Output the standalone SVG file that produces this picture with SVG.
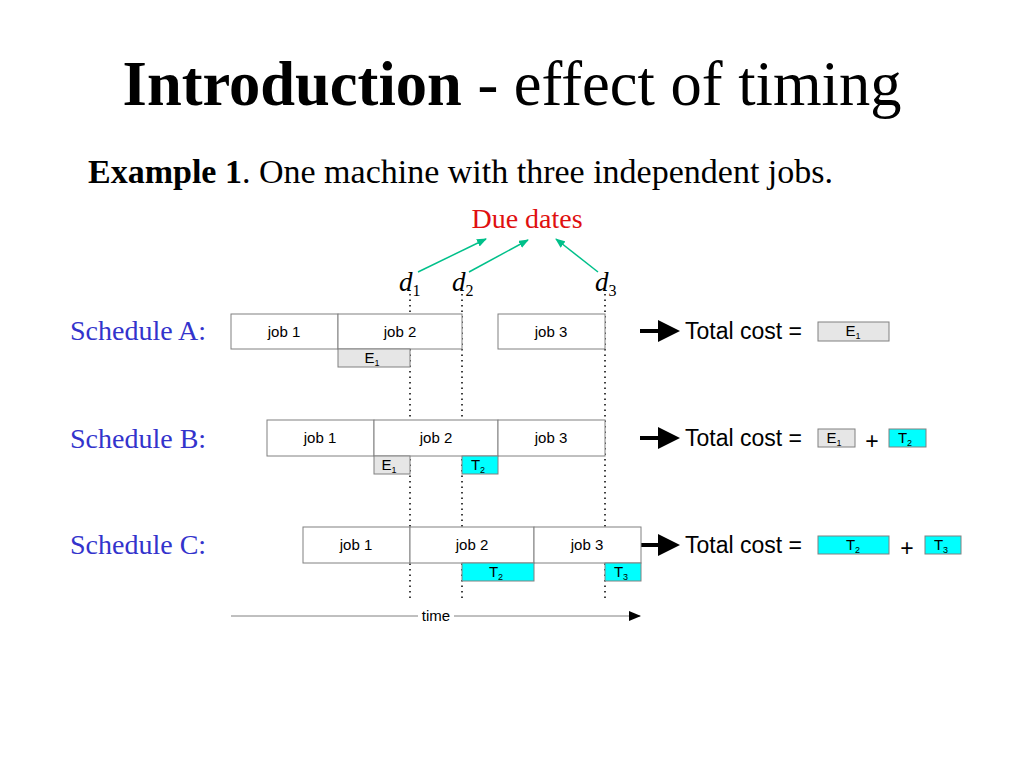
<svg xmlns="http://www.w3.org/2000/svg" width="1024" height="768" viewBox="0 0 1024 768">
<style>
.serif{font-family:"Liberation Serif","Times New Roman",serif}
.sans{font-family:"Liberation Sans",Arial,sans-serif}
.job{fill:#fff;stroke:#808080;stroke-width:1}
.e{fill:#e6e6e6;stroke:#808080;stroke-width:1}
.t{fill:#00ffff;stroke:#808080;stroke-width:1}
.jl{font-family:"Liberation Sans",Arial,sans-serif;font-size:15px;fill:#000;text-anchor:middle}
.sub{font-size:9px}
.sched{font-family:"Liberation Serif","Times New Roman",serif;font-size:28px;fill:#3333cc}
.tc{font-family:"Liberation Sans",Arial,sans-serif;font-size:23px;fill:#000}
.dot{stroke:#000;stroke-width:1.5;stroke-dasharray:1.5 4}
.green{stroke:#00c08a;stroke-width:1.5;fill:none}
</style>
<defs>
<marker id="gh" markerWidth="10" markerHeight="8" refX="9" refY="4" orient="auto" markerUnits="userSpaceOnUse">
<path d="M0,0 L10,4 L0,8 z" fill="#00c08a"/>
</marker>
<marker id="th" markerWidth="12" markerHeight="10" refX="11" refY="5" orient="auto" markerUnits="userSpaceOnUse">
<path d="M0,0 L12,5 L0,10 z" fill="#000"/>
</marker>
</defs>
<rect width="1024" height="768" fill="#fff"/>
<text x="512" y="105" class="serif" font-size="62.5" text-anchor="middle"><tspan font-weight="bold">Introduction</tspan> - effect of timing</text>
<text x="88" y="183" class="serif" font-size="34"><tspan font-weight="bold">Example 1</tspan>. One machine with three independent jobs.</text>
<text x="527" y="228" class="serif" font-size="28" fill="#e01010" text-anchor="middle">Due dates</text>

<g id="duedates">
<text x="399" y="291" class="serif" font-size="27" font-style="italic">d<tspan font-style="normal" font-size="16" dy="5">1</tspan></text>
<text x="452" y="291" class="serif" font-size="27" font-style="italic">d<tspan font-style="normal" font-size="16" dy="5">2</tspan></text>
<text x="595" y="291" class="serif" font-size="27" font-style="italic">d<tspan font-style="normal" font-size="16" dy="5">3</tspan></text>
</g>

<g id="connectors">
<line x1="418" y1="272" x2="486" y2="239" class="green" marker-end="url(#gh)"/>
<line x1="469" y1="272" x2="528" y2="240" class="green" marker-end="url(#gh)"/>
<line x1="598" y1="272" x2="556" y2="239" class="green" marker-end="url(#gh)"/>
<line x1="410" y1="294" x2="410" y2="600" class="dot"/>
<line x1="462" y1="294" x2="462" y2="600" class="dot"/>
<line x1="605" y1="294" x2="605" y2="600" class="dot"/>
<line x1="231" y1="616" x2="418" y2="616" stroke="#808080" stroke-width="1"/>
<line x1="454" y1="616" x2="640" y2="616" stroke="#808080" stroke-width="1" marker-end="url(#th)"/>
<g id="bigarrows" fill="#000">
<path d="M640,329 L658,329 L658,320 L680,331 L658,342 L658,333 L640,333 z"/>
<path d="M640,436 L658,436 L658,427 L680,438 L658,449 L658,440 L640,440 z"/>
<path d="M640,543 L658,543 L658,534 L680,545 L658,556 L658,547 L640,547 z"/>
</g>
</g>
<text x="436" y="621" class="jl">time</text>

<g id="scheduleA">
<text x="70" y="340" class="sched">Schedule A:</text>
<rect x="231" y="314" width="107" height="35" class="job"/>
<rect x="338" y="314" width="124" height="35" class="job"/>
<rect x="498" y="314" width="107" height="35" class="job"/>
<text x="284" y="337" class="jl">job 1</text>
<text x="400" y="337" class="jl">job 2</text>
<text x="551" y="337" class="jl">job 3</text>
<rect x="338" y="349" width="72" height="18" class="e"/>
<text x="372" y="363" class="jl">E<tspan class="sub" dy="3">1</tspan></text>
<text x="685" y="339" class="tc">Total cost =</text>
<rect x="818" y="322" width="71" height="19" class="e"/>
<text x="853" y="336" class="jl">E<tspan class="sub" dy="3">1</tspan></text>
</g>

<g id="scheduleB">
<text x="70" y="448" class="sched">Schedule B:</text>
<rect x="267" y="420" width="107" height="36" class="job"/>
<rect x="374" y="420" width="124" height="36" class="job"/>
<rect x="498" y="420" width="107" height="36" class="job"/>
<text x="320" y="443" class="jl">job 1</text>
<text x="436" y="443" class="jl">job 2</text>
<text x="551" y="443" class="jl">job 3</text>
<rect x="374" y="456" width="36" height="18" class="e"/>
<text x="389" y="470" class="jl">E<tspan class="sub" dy="3">1</tspan></text>
<rect x="462" y="456" width="36" height="18" class="t"/>
<text x="478" y="470" class="jl">T<tspan class="sub" dy="3">2</tspan></text>
<text x="685" y="446" class="tc">Total cost =</text>
<rect x="818" y="429" width="37" height="18" class="e"/>
<text x="834" y="443" class="jl">E<tspan class="sub" dy="3">1</tspan></text>
<text x="872" y="449" class="tc" text-anchor="middle">+</text>
<rect x="889" y="429" width="37" height="18" class="t"/>
<text x="905" y="443" class="jl">T<tspan class="sub" dy="3">2</tspan></text>
</g>

<g id="scheduleC">
<text x="70" y="554" class="sched">Schedule C:</text>
<rect x="303" y="527" width="107" height="36" class="job"/>
<rect x="410" y="527" width="124" height="36" class="job"/>
<rect x="534" y="527" width="107" height="36" class="job"/>
<text x="356" y="550" class="jl">job 1</text>
<text x="472" y="550" class="jl">job 2</text>
<text x="587" y="550" class="jl">job 3</text>
<rect x="462" y="563" width="72" height="18" class="t"/>
<text x="496" y="577" class="jl">T<tspan class="sub" dy="3">2</tspan></text>
<rect x="605" y="563" width="36" height="18" class="t"/>
<text x="621" y="577" class="jl">T<tspan class="sub" dy="3">3</tspan></text>
<text x="685" y="553" class="tc">Total cost =</text>
<rect x="818" y="536" width="71" height="18" class="t"/>
<text x="853" y="550" class="jl">T<tspan class="sub" dy="3">2</tspan></text>
<text x="907" y="556" class="tc" text-anchor="middle">+</text>
<rect x="925" y="536" width="36" height="18" class="t"/>
<text x="941" y="550" class="jl">T<tspan class="sub" dy="3">3</tspan></text>
</g>
</svg>
